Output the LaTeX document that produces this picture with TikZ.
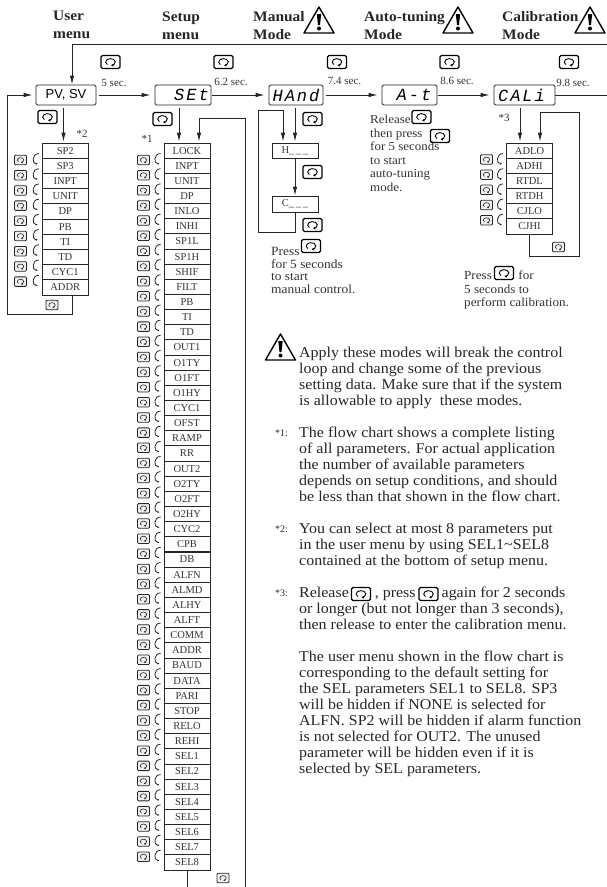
\documentclass[tikz,border=0pt]{standalone}
\usepackage{fontspec}
\setmainfont{Liberation Serif}
\setsansfont{Liberation Sans}
\newfontfamily\segfont{Liberation Mono}
\newfontfamily\wideserif[FakeStretch=1.065]{Liberation Serif}
\usetikzlibrary{arrows.meta,calc}

\tikzset{
  wire/.style={draw=black!85, line width=0.9pt},
  flow/.style={wire, -{Latex[length=9pt,width=4.5pt]}},
  hook/.style={draw=black!85, line width=0.8pt, -{Latex[length=2pt,width=2pt]}},
  dispbox/.style={draw=black!85, rounded corners=1.5pt, line width=0.9pt, inner sep=0pt, minimum height=20pt},
  dispseg/.style={dispbox, font=\segfont\itshape\fontsize{17}{18}\selectfont},
  rowbox/.style={draw=black!85, line width=0.9pt, inner sep=0pt, minimum width=46pt, minimum height=15.15pt, font=\fontsize{10.5}{12}\selectfont, text=black!80},
  keybig/.style={draw=black, rounded corners=1.5pt, line width=1.2pt, inner sep=0pt, minimum width=19pt, minimum height=13pt,
    path picture={\draw[x=1pt,y=1pt,line width=0.9pt,-{Latex[length=2.5pt,width=3pt]}] ([shift={(230:4.8pt and 3.4pt)}]path picture bounding box.center) arc[start angle=230,end angle=-85,x radius=4.8pt,y radius=3.4pt];}},
  keysmall/.style={draw=black!85, fill=black!6, rounded corners=1pt, line width=0.8pt, inner sep=0pt, minimum width=12pt, minimum height=9.5pt,
    path picture={\draw[x=1pt,y=1pt,line width=0.6pt,-{Latex[length=1.8pt,width=2.2pt]}] ([shift={(230:3.2pt and 2.4pt)}]path picture bounding box.center) arc[start angle=230,end angle=-85,x radius=3.2pt,y radius=2.4pt];}},
  headtext/.style={align=left, anchor=north west, inner sep=0pt, font=\wideserif\fontsize{14.5}{18}\selectfont\bfseries, text=black!85},
  sectext/.style={inner sep=0pt, font=\fontsize{11}{12}\selectfont, text=black!80},
  sidetext/.style={align=left, anchor=north west, inner sep=0pt, text=black!80},
  notetext/.style={align=left, anchor=north west, inner sep=0pt, font=\wideserif\fontsize{15}{16}\selectfont, text=black!85},
  notemark/.style={align=left, anchor=north west, inner sep=0pt, font=\fontsize{10}{16}\selectfont, text=black!85},
  warnsign/.pic={
    \draw[line width=1.4pt, line join=round] (-15,0) -- (0,-26) -- (15,0) -- cycle;
    \fill (-2.2,-19) -- (2.2,-19) -- (1,-8) -- (-1,-8) -- cycle;
    \fill (0,-4.5) circle (2);
  }
}

\begin{document}
\begin{tikzpicture}[x=1pt, y=-1pt]
  \useasboundingbox (0,0) rectangle (607,887);

  % headings
  \node[headtext] (headUser) at (53,11) {User\\menu};
  \node[headtext] (headSetup) at (162,12) {Setup\\menu};
  \node[headtext] (headMan) at (253,11) {Manual\\Mode};
  \node[headtext] (headAuto) at (364,11) {Auto-tuning\\Mode};
  \node[headtext] (headCal) at (502,11) {Calibration\\Mode};
  \pic at (319,33) {warnsign};
  \pic at (458,33) {warnsign};
  \pic at (590,33) {warnsign};

  % display boxes
  \node[dispbox, minimum width=60pt, font=\sffamily\fontsize{13}{14}\selectfont] (pv) at (66,95) {PV, SV};
  \node[dispseg, minimum width=56pt] (set) at (183,95) {\hspace*{17pt}S\kern2pt E\kern2pt t};
  \node[dispseg, minimum width=54pt] (hand) at (296,95) {H\kern2pt A\kern2pt n\kern2pt d};
  \node[dispseg, minimum width=55pt] (auto) at (409.5,95) {\hspace*{9pt}A\kern2pt -\kern2pt t};
  \node[dispseg, minimum width=61pt] (cal) at (524.5,95) {C\kern2pt A\kern2pt L\kern2pt i\hspace*{6pt}};

  \draw[flow, shorten <=3pt, shorten >=4pt] (pv) -- (set);
  \draw[flow, shorten <=1pt, shorten >=4pt] (set) -- (hand);
  \draw[flow, shorten <=3pt, shorten >=4pt] (hand) -- (auto);
  \draw[flow, shorten <=1pt, shorten >=4pt] (auto) -- (cal);
  \coordinate (calOut) at (607,95);
  \draw[wire] (cal) -- (calOut);
  \coordinate (topOut) at (607,44.5);
  \draw[flow] (topOut) -| ([xshift=6pt]pv.north);

  % keys and times above the arrows
  \foreach \name/\x/\t/\tx/\ty in {keyA/110.5/5 sec./114/83, keyB/223.5/6.2 sec./231/82,
      keyC/337/7.4 sec./344.5/81, keyD/449.5/8.6 sec./457/81, keyE/569/9.8 sec./573/83} {
    \node[keybig] (\name) at (\x,62) {};
    \node[sectext] (\name t) at (\tx,\ty) {\t};
  }

  % user menu
  \foreach \name [count=\i] in {SP2,SP3,INPT,UNIT,DP,PB,TI,TD,CYC1,ADDR} {
    \pgfmathsetmacro\y{143+(\i-0.5)*15.2}
    \node[rowbox] (user\i) at (65.25,\y) {\name};
  }
  \foreach \i [evaluate=\i as \j using int(\i+1)] in {1,...,9} {
    \pgfmathsetmacro\y{160+(\i-1)*15.2}
    \node[keysmall] (userKey\i) at (20.5,\y) {};
    \draw[hook] ([shift={(-3pt,-3pt)}]user\i.west) .. controls +(-7pt,0pt) and ([shift={(-10pt,2pt)}]user\j.west) .. ([shift={(-4pt,2pt)}]user\j.west);
  }
  \node[keybig] (keyUser) at (47.5,117) {};
  \node[sectext] (star2) at (82,134) {*2};
  \draw[flow] ($(pv.south)+(-2.5,3)$) -- ($(user1.north)+(-1.75,-1)$);
  \node[keysmall] (keyUserEnd) at (52,305) {};
  \coordinate (userLeft) at (7,314);
  \draw[flow, shorten >=3pt] ([xshift=6.75pt]user10.south) |- (userLeft) |- (pv.west);

  % setup menu
  \foreach \name [count=\i] in {LOCK,INPT,UNIT,DP,INLO,INHI,SP1L,SP1H,SHIF,FILT,PB,TI,TD,OUT1,
      O1TY,O1FT,O1HY,CYC1,OFST,RAMP,RR,OUT2,O2TY,O2FT,O2HY,CYC2,CPB,DB,ALFN,ALMD,ALHY,ALFT,
      COMM,ADDR,BAUD,DATA,PARI,STOP,RELO,REHI,SEL1,SEL2,SEL3,SEL4,SEL5,SEL6,SEL7,SEL8} {
    \pgfmathsetmacro\y{143+(\i-0.5)*15.146}
    \node[rowbox] (setup\i) at (187,\y) {\name};
  }
  \foreach \i [evaluate=\i as \j using int(\i+1)] in {1,...,47} {
    \pgfmathsetmacro\y{160+(\i-1)*15.146}
    \node[keysmall] (setupKey\i) at (143.5,\y) {};
    \draw[hook] ([shift={(-3pt,-3pt)}]setup\i.west) .. controls +(-7pt,0pt) and ([shift={(-10pt,2pt)}]setup\j.west) .. ([shift={(-4pt,2pt)}]setup\j.west);
  }
  \node[keybig] (keySet) at (162.5,119) {};
  \node[sectext] (star1) at (147,139) {*1};
  \draw[flow] ($(set.south)+(-4,3)$) -- ($(setup1.north)+(-8,-1)$);
  \coordinate (setBack) at (245.5,118);
  \coordinate (setBackEnd) at (245.5,887);
  \draw[flow] (setBackEnd) -- (setBack) -- (199,118) -- ([xshift=12pt,yshift=1pt]setup1.north);
  \coordinate (setDown) at (187,887);
  \draw[wire] (setup48.south) -- (setDown);
  \node[keysmall] (keySetEnd) at (223,878) {};

  % manual mode
  \node[rowbox, minimum height=15pt] (handH) at (295,150.5) {H\_\,\_\,\_};
  \node[rowbox, minimum height=16pt] (handC) at (295,204) {C\_\,\_\,\_};
  \draw[flow] ($(hand.south)+(-1,3)$) -- ($(handH.north)+(0,-1)$);
  \draw[flow] (handH) -- (handC);
  \coordinate (handLeftA) at (258,110);
  \coordinate (handLeftB) at (258,232);
  \draw[flow] (handC) |- (handLeftB) -- (handLeftA) -| ([xshift=-12pt,yshift=1pt]handH.north);
  \node[keybig] (keyHandA) at (312.5,119) {};
  \node[keybig] (keyHandB) at (312.5,172) {};
  \node[keybig] (keyHandC) at (312.5,225) {};
  \node[sidetext, font=\wideserif\fontsize{12.6}{12.6}\selectfont] (handNote) at (271,247) {Press\\for 5 seconds\\to start\\manual control.};
  \node[keybig] (keyHandD) at (311,246) {};

  % auto tuning
  \node[sidetext, font=\wideserif\fontsize{12.2}{13.5}\selectfont] (autoNote) at (370,115) {Release\\then press\\for 5 seconds\\to start\\auto-tuning\\mode.};
  \node[keybig] (keyAutoA) at (421.5,117) {};
  \node[keybig] (keyAutoB) at (440,136) {};

  % calibration
  \foreach \name [count=\i] in {ADLO,ADHI,RTDL,RTDH,CJLO,CJHI} {
    \pgfmathsetmacro\y{143+(\i-0.5)*15.17}
    \node[rowbox] (calib\i) at (529.5,\y) {\name};
  }
  \foreach \i [evaluate=\i as \j using int(\i+1)] in {1,...,5} {
    \pgfmathsetmacro\y{159.5+(\i-1)*15.17}
    \node[keysmall] (calibKey\i) at (486.5,\y) {};
    \draw[hook] ([shift={(-3pt,-3pt)}]calib\i.west) .. controls +(-7pt,0pt) and ([shift={(-10pt,2pt)}]calib\j.west) .. ([shift={(-4pt,2pt)}]calib\j.west);
  }
  \node[sectext] (star3) at (504,118) {*3};
  \draw[flow] ($(cal.south)+(-4.5,3)$) -- ($(calib1.north)+(-9.5,-1)$);
  \coordinate (calibRightA) at (579,112);
  \coordinate (calibRightB) at (579,256);
  \draw[flow] ([xshift=-0.5pt]calib6.south) |- (calibRightB) -- (calibRightA) -| ([xshift=10.5pt,yshift=1pt]calib1.north);
  \node[keysmall] (keyCalibEnd) at (558.5,247) {};
  \node[sidetext, font=\wideserif\fontsize{12.3}{13.5}\selectfont] (calibNote) at (464,271) {Press \hspace{20pt} for\\5 seconds to\\perform calibration.};
  \node[keybig] (keyCalib) at (504,273) {};

  % notes
  \pic at (280.5,360) {warnsign};
  \node[notetext] (noteA) at (299,347) {Apply these modes will break the control\\loop and change some of the previous\\setting data. Make sure that if the system\\is allowable to apply\ \ these modes.};
  \node[notemark] (noteOneT) at (275,430) {*1:};
  \node[notemark] (noteTwoT) at (275,526) {*2:};
  \node[notemark] (noteThreeT) at (275,590) {*3:};
  \node[notetext] (noteOne) at (299,427) {The flow chart shows a complete listing\\of all parameters. For actual application\\the number of available parameters\\depends on setup conditions, and should\\be less than that shown in the flow chart.};
  \node[notetext] (noteTwo) at (299,523) {You can select at most 8 parameters put\\in the user menu by using SEL1\textasciitilde SEL8\\contained at the bottom of setup menu.};
  \node[notetext] (noteThree) at (299,587) {Release \hspace{18pt} , press \hspace{18pt} again for 2 seconds\\or longer (but not longer than 3 seconds),\\then release to enter the calibration menu.};
  \node[keybig] (keyNoteA) at (361,594) {};
  \node[keybig] (keyNoteB) at (428.5,594) {};
  \node[notetext] (noteFour) at (299,651) {The user menu shown in the flow chart is\\corresponding to the default setting for\\the SEL parameters SEL1 to SEL8. SP3\\will be hidden if NONE is selected for\\ALFN. SP2 will be hidden if alarm function\\is not selected for OUT2. The unused\\parameter will be hidden even if it is\\selected by SEL parameters.};
\end{tikzpicture}
\end{document}
